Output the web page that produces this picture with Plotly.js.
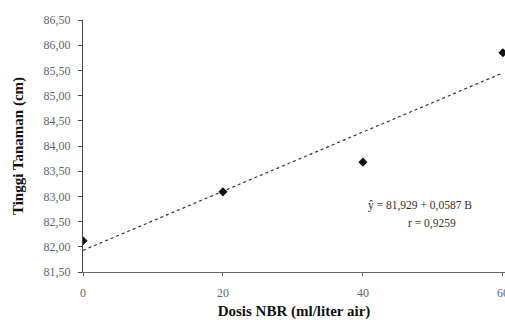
<!DOCTYPE html>
<html><head><meta charset="utf-8">
<script src="https://cdn.plot.ly/plotly-3.0.1.min.js"></script>
<style>html,body{margin:0;padding:0;background:#fff}#c{width:505px;height:320px}</style>
</head><body><div id="c"></div>
<script>
var dosis = [0, 20, 40, 60];
var tinggi = [82.12, 83.09, 83.68, 85.85];
var intercept = 81.929, slope = 0.0587;
var lineX = [0, 60];
var lineY = lineX.map(function(x){return intercept + slope*x;});
var eqText = "ŷ = 81,929 + 0,0587 B";
var rText = "r = 0,9259";

var font = "Liberation Serif, Times New Roman, serif";
Plotly.newPlot('c', [
  {x: lineX, y: lineY, mode: 'lines', line: {color: '#333', width: 1.2, dash: 'dot'}, hoverinfo: 'skip'},
  {x: dosis, y: tinggi, mode: 'markers', marker: {symbol: 'diamond', size: 7, color: '#111'}}
], {
  width: 505, height: 320,
  margin: {l: 83, r: 0, t: 20, b: 48},
  showlegend: false,
  paper_bgcolor: '#fff', plot_bgcolor: '#fff',
  separators: ',.',
  font: {family: font, color: '#444', size: 12},
  xaxis: {range: [0, 60.3], tickvals: [0, 20, 40, 60], showgrid: false, zeroline: false,
    showline: true, linecolor: '#666', linewidth: 1.2, ticks: 'outside', ticklen: 3, tickcolor: '#666',
    ticklabeloverflow: 'allow', ticklabelstandoff: 6,
    tickfont: {family: font, size: 12, color: '#666'},
    title: {text: 'Dosis NBR (ml/liter air)', font: {family: font, size: 15, color: '#111', weight: 'bold'}, standoff: 10}},
  yaxis: {range: [81.5, 86.5], dtick: 0.5, tick0: 81.5, tickformat: '.2f', showgrid: false, zeroline: false,
    showline: true, linecolor: '#444', linewidth: 1, ticks: 'outside', ticklen: 4, tickcolor: '#444',
    ticklabelstandoff: 5,
    tickfont: {family: font, size: 12, color: '#666'},
    title: {text: 'Tinggi Tanaman (cm)', font: {family: font, size: 15, color: '#111', weight: 'bold'}, standoff: 16}},
  annotations: [
    {xref: 'paper', yref: 'paper', x: (420-83)/422, y: (272-205)/252, text: eqText, showarrow: false,
     font: {family: font, size: 11.5, color: '#333'}, xanchor: 'center', yanchor: 'middle'},
    {xref: 'paper', yref: 'paper', x: (432-83)/422, y: (272-223)/252, text: rText, showarrow: false,
     font: {family: font, size: 11.5, color: '#333'}, xanchor: 'center', yanchor: 'middle'}
  ]
}, {displayModeBar: false, staticPlot: true});
</script></body></html>
